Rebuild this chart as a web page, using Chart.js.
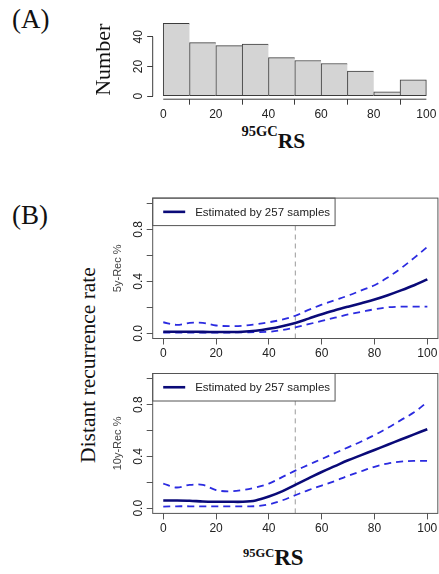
<!DOCTYPE html>
<html>
<head>
<meta charset="utf-8">
<script src="https://cdn.jsdelivr.net/npm/chart.js@4.4.1/dist/chart.umd.min.js"></script>
<style>
html, body { margin: 0; padding: 0; background: #fff; }
body { width: 439px; height: 574px; position: relative; overflow: hidden; }
canvas { position: absolute; left: 0; }
.lab { position: absolute; font-family: "Liberation Serif", "Times New Roman", serif; color: #111; white-space: nowrap; }
.xt { font-weight: bold; }
</style>
</head>
<body>
<div class="lab" style="left:12px;top:6px;font-size:27px;line-height:27px">(A)</div>
<div class="lab" style="left:12px;top:202px;font-size:27px;line-height:27px">(B)</div>
<div class="lab" style="left:88.5px;top:365px;font-size:21.5px;line-height:21.5px;transform:translate(-50%,-50%) rotate(-90deg)">Distant recurrence rate</div>
<div class="lab xt" style="left:241.5px;top:130.5px;font-size:21.5px;line-height:21.5px"><span style="font-size:14.5px;position:relative;top:-12px">95GC</span>RS</div>
<div class="lab xt" style="left:243px;top:545.7px;font-size:23px;line-height:23px"><span style="font-size:12.5px;position:relative;top:-8px">95GC</span>RS</div>

<canvas id="hist" width="439" height="125" style="top:0px"></canvas>
<canvas id="rec5" width="439" height="185" style="top:180px"></canvas>
<canvas id="rec10" width="439" height="190" style="top:355px"></canvas>

<script>
// histogram of 95GC-RS
var binMids = [5, 15, 25, 35, 45, 55, 65, 75, 85, 95];
var counts = [49, 36, 34, 35, 26, 24, 22, 17, 3, 11];
var xTicks = [0, 20, 40, 60, 80, 100];
var histYTicks = [0, 10, 20, 30, 40, 50];
var histYLabels = ['0', '', '20', '', '40', ''];

// recurrence curves
var score = [0, 5, 10, 15, 20, 25, 30, 35, 40, 45, 50, 55, 60, 65, 70, 75, 80, 85, 90, 95, 100];
var rec5 = [0.012, 0.012, 0.012, 0.011, 0.010, 0.010, 0.012, 0.020, 0.035, 0.055, 0.080, 0.113, 0.147, 0.177, 0.205, 0.232, 0.260, 0.293, 0.330, 0.370, 0.415];
var rec5Upper = [0.085, 0.065, 0.080, 0.080, 0.060, 0.055, 0.058, 0.070, 0.085, 0.105, 0.135, 0.180, 0.220, 0.255, 0.290, 0.330, 0.370, 0.430, 0.500, 0.580, 0.665];
var rec5Lower = [0.006, 0.006, 0.006, 0.006, 0.006, 0.006, 0.007, 0.009, 0.012, 0.025, 0.045, 0.070, 0.095, 0.120, 0.145, 0.165, 0.185, 0.200, 0.205, 0.205, 0.205];
var rec10 = [0.060, 0.060, 0.058, 0.052, 0.050, 0.050, 0.050, 0.060, 0.090, 0.130, 0.180, 0.230, 0.280, 0.325, 0.370, 0.410, 0.450, 0.490, 0.530, 0.570, 0.610];
var rec10Upper = [0.190, 0.160, 0.180, 0.180, 0.140, 0.130, 0.140, 0.160, 0.190, 0.240, 0.290, 0.335, 0.380, 0.425, 0.470, 0.515, 0.565, 0.620, 0.680, 0.740, 0.820];
var rec10Lower = [0.012, 0.015, 0.015, 0.015, 0.015, 0.015, 0.015, 0.016, 0.030, 0.060, 0.100, 0.140, 0.175, 0.210, 0.250, 0.285, 0.320, 0.345, 0.360, 0.365, 0.365];
var rateTicks = [0, 0.2, 0.4, 0.6, 0.8, 1.0];
var rateLabels = ['0.0', '', '0.4', '', '0.8', ''];
var cutoff = 50;
var legendText = 'Estimated by 257 samples';

var sans = '"Liberation Sans", Arial, sans-serif';

// R-like axes: axis line only from first to last tick, or a full box
var rAxes = {
    id: 'rAxes',
    afterDraw: function(chart, args, opts) {
        var ctx = chart.ctx, a = chart.chartArea;
        var xs = chart.scales.x, ys = chart.scales.y;
        ctx.save();
        ctx.strokeStyle = opts.color || '#444';
        ctx.lineWidth = 1;
        if (opts.box) {
            ctx.strokeRect(a.left, a.top, a.right - a.left, a.bottom - a.top);
        } else {
            ctx.beginPath();
            ctx.moveTo(xs.getPixelForValue(xs.ticks[0].value), a.bottom);
            ctx.lineTo(xs.getPixelForValue(xs.ticks[xs.ticks.length - 1].value), a.bottom);
            ctx.moveTo(a.left, ys.getPixelForValue(ys.ticks[0].value));
            ctx.lineTo(a.left, ys.getPixelForValue(ys.ticks[ys.ticks.length - 1].value));
            ctx.stroke();
        }
        ctx.restore();
    }
};

// R-like legend box in the top-left corner of the plot
var rLegend = {
    id: 'rLegend',
    afterDatasetsDraw: function(chart, args, opts) {
        if (!opts.show) return;
        var ctx = chart.ctx, a = chart.chartArea, ds = chart.data.datasets[0];
        ctx.save();
        ctx.font = '11.5px ' + sans;
        var tw = ctx.measureText(ds.label).width;
        var h = opts.height, w = 42.5 + tw + 5;
        ctx.fillStyle = '#fff';
        ctx.fillRect(a.left, a.top, w, h);
        ctx.strokeStyle = '#555';
        ctx.lineWidth = 1;
        ctx.strokeRect(a.left, a.top, w, h);
        ctx.strokeStyle = ds.borderColor;
        ctx.lineWidth = ds.borderWidth;
        ctx.beginPath();
        ctx.moveTo(a.left + 10.5, a.top + h / 2);
        ctx.lineTo(a.left + 32.5, a.top + h / 2);
        ctx.stroke();
        ctx.fillStyle = '#222';
        ctx.textBaseline = 'middle';
        ctx.fillText(ds.label, a.left + 42.5, a.top + h / 2 + 0.5);
        ctx.restore();
    }
};

function setTicks(list) {
    return function(s) { s.ticks = list.map(function(v) { return { value: v }; }); };
}

new Chart(document.getElementById('hist'), {
    type: 'bar',
    data: {
        datasets: [{
            data: binMids.map(function(x, i) { return { x: x, y: counts[i] }; }),
            backgroundColor: '#d4d4d4',
            borderColor: '#3c3c3c',
            borderWidth: function(c) {
                return { top: 1, left: 1, bottom: 1, right: c.dataIndex === counts.length - 1 ? 1 : 0 };
            },
            borderSkipped: false,
            barPercentage: 1,
            categoryPercentage: 1
        }]
    },
    options: {
        responsive: false,
        animation: false,
        events: [],
        layout: { padding: { left: 88, top: 20.4, right: 0.7, bottom: 0 } },
        plugins: { legend: { display: false }, tooltip: { enabled: false }, rAxes: { color: '#3c3c3c' } },
        scales: {
            x: {
                type: 'linear', min: -4, max: 104, offset: false,
                afterBuildTicks: setTicks(xTicks),
                afterFit: function(s) { s.height = 25.8; },
                ticks: { font: { family: sans, size: 12 }, color: '#222', padding: 2.6, callback: function(v) { return String(v); } },
                grid: { drawOnChartArea: false, tickLength: 5.5, color: '#3c3c3c' },
                border: { display: false }
            },
            y: {
                min: -1.96, max: 50.96,
                afterBuildTicks: setTicks(histYTicks),
                afterFit: function(s) { s.width = 64.7; },
                ticks: { font: { family: sans, size: 12 }, color: '#222', minRotation: 90, maxRotation: 90, crossAlign: 'center', padding: 2,
                    callback: function(v, i) { return histYLabels[i]; } },
                grid: { drawOnChartArea: false, tickLength: 5.5, color: '#3c3c3c' },
                border: { display: false },
                title: { display: true, text: 'Number', color: '#111', font: { family: '"Liberation Serif", serif', size: 22 }, padding: { top: 3.3, bottom: 0 } }
            }
        }
    },
    plugins: [rAxes]
});

function rateChart(id, yTitle, mid, upper, lower, padTop, xHeight, xPad) {
    function pts(arr) { return score.map(function(x, i) { return { x: x, y: arr[i] }; }); }
    var dashed = { borderColor: '#2b2be0', borderWidth: 1.8, borderDash: [7, 5], pointRadius: 0, tension: 0.35, fill: false };
    return new Chart(document.getElementById(id), {
        type: 'line',
        data: {
            datasets: [
                { label: legendText, data: pts(mid), borderColor: '#0a0a78', borderWidth: 2.6, pointRadius: 0, tension: 0.35, fill: false },
                Object.assign({ label: 'upper', data: pts(upper) }, dashed),
                Object.assign({ label: 'lower', data: pts(lower) }, dashed),
                { label: 'cut', data: [{ x: cutoff, y: -0.04 }, { x: cutoff, y: 1.04 }], borderColor: '#9a9a9a', borderWidth: 1, borderDash: [5, 4], pointRadius: 0 }
            ]
        },
        options: {
            responsive: false,
            animation: false,
            events: [],
            layout: { padding: { left: 108, top: padTop, right: 0.7, bottom: 0 } },
            plugins: {
                legend: { display: false }, tooltip: { enabled: false },
                rAxes: { box: true, color: '#555' },
                rLegend: { show: true, height: 27.5 }
            },
            scales: {
                x: {
                    type: 'linear', min: -4, max: 104,
                    afterBuildTicks: setTicks(xTicks),
                    afterFit: function(s) { s.height = xHeight; },
                    ticks: { font: { family: sans, size: 12 }, color: '#222', padding: xPad, callback: function(v) { return String(v); } },
                    grid: { drawOnChartArea: false, tickLength: 6, color: '#555' },
                    border: { display: false }
                },
                y: {
                    min: -0.04, max: 1.04,
                    afterBuildTicks: setTicks(rateTicks),
                    afterFit: function(s) { s.width = 44.7; },
                    ticks: { font: { family: sans, size: 12 }, color: '#222', minRotation: 90, maxRotation: 90, crossAlign: 'center', padding: 0,
                        callback: function(v, i) { return rateLabels[i]; } },
                    grid: { drawOnChartArea: false, tickLength: 6, color: '#555' },
                    border: { display: false },
                    title: { display: true, text: yTitle, color: '#444', font: { family: sans, size: 11 }, padding: { top: 3.7, bottom: 0 } }
                }
            }
        },
        plugins: [rLegend, rAxes]
    });
}

rateChart('rec5', '5y-Rec %', rec5, rec5Upper, rec5Lower, 18.1, 26.5, 1.6);
rateChart('rec10', '10y-Rec %', rec10, rec10Upper, rec10Lower, 18.5, 31.6, 1.7);
</script>
</body>
</html>
